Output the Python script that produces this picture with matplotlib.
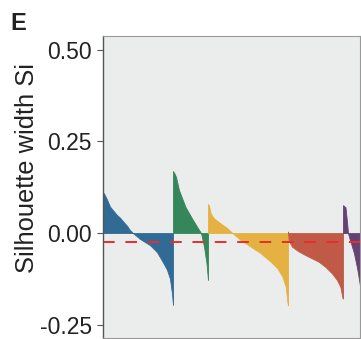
import matplotlib
matplotlib.use("Agg")
import matplotlib.pyplot as plt

plt.rcParams["font.family"] = ["Liberation Sans", "DejaVu Sans"]
plt.rcParams["axes.unicode_minus"] = False

# silhouette profiles: (rank within cluster, Si)
cluster_sizes = [70, 35, 80, 55, 30]
cluster_colors = ["#326a96", "#35865b", "#e6b143", "#c05a47", "#654274"]

blue_rank = [0, 1, 3.7, 7, 10, 13.7, 17, 20, 24, 26.7, 30, 37, 47, 54, 60, 64, 67, 69, 70]
blue_si = [0.110, 0.108, 0.093, 0.072, 0.062, 0.050, 0.042, 0.032, 0.020, 0.009, 0.0,
           -0.016, -0.033, -0.052, -0.080, -0.100, -0.125, -0.165, -0.196]

green_rank = [0, 1, 3, 6, 12.5, 19, 25, 28, 31, 33.5, 35]
green_si = [0.169, 0.165, 0.153, 0.117, 0.071, 0.040, 0.013, 0.0, -0.037, -0.082, -0.128]

yellow_rank = [0, 1, 2.7, 6, 12.7, 19.4, 24.4, 32.7, 42.7, 52.7, 62.7, 69.4, 74.4, 77.7, 79.5, 80]
yellow_si = [0.079, 0.075, 0.053, 0.040, 0.026, 0.013, 0.0, -0.019, -0.037, -0.055, -0.078, -0.096, -0.119, -0.146, -0.19, -0.196]

red_rank = [0, 0.6, 4, 10.6, 17.3, 24, 30.6, 37.3, 44, 49, 52.3, 54.6, 55]
red_si = [0.004, -0.019, -0.037, -0.050, -0.060, -0.069, -0.078, -0.092, -0.110, -0.128, -0.146, -0.178, -0.178]

purple_rank = [0, 2.5, 4, 5, 6, 11, 14.4, 17.7, 20, 22]
purple_si = [0.076, 0.070, 0.030, 0.0, -0.010, -0.055, -0.100, -0.155, -0.200, -0.240]

mean_si = -0.024
yticks = [0.50, 0.25, 0.00, -0.25]

profiles = [(blue_rank, blue_si), (green_rank, green_si), (yellow_rank, yellow_si),
            (red_rank, red_si), (purple_rank, purple_si)]

fig = plt.figure(figsize=(3.61, 3.39), dpi=100)
ax = fig.add_axes([103 / 361, 1 / 339, 257 / 361, 302 / 339])
ax.set_facecolor("#ebedec")

start = 0
for (rank, si), size, col in zip(profiles, cluster_sizes, cluster_colors):
    x = [start + r for r in rank]
    ax.fill_between(x, 0, si, color=col, linewidth=0.6, edgecolor=col)
    start += size

ax.axhline(mean_si, color="#ee2a2a", linewidth=1.4, dashes=(6, 5.5))

ax.set_xlim(0, 257)
ax.set_ylim(-0.286, 0.537)
ax.set_xticks([])
ax.set_yticks(yticks)
ax.set_yticklabels([f"{t:.2f}" for t in yticks])
ax.tick_params(axis="y", length=4.3, width=0.8, color="#555555", pad=3.6,
               labelsize=16.5, labelcolor="#222222")

for name, spine in ax.spines.items():
    spine.set_color("#999999")
    spine.set_linewidth(0.8)
ax.spines["left"].set_color("#555555")
ax.spines["left"].set_linewidth(1.0)

fig.text(27 / 361, 1 - 168 / 339, "Silhouette width Si", rotation=90,
         ha="center", va="center", fontsize=18.4, color="#222222")
fig.text(10 / 361, 1 - 30 / 339, "E", fontsize=17, fontweight="bold",
         ha="left", va="baseline", color="#222222")

fig.savefig("out.png", dpi=100)
plt.close(fig)
